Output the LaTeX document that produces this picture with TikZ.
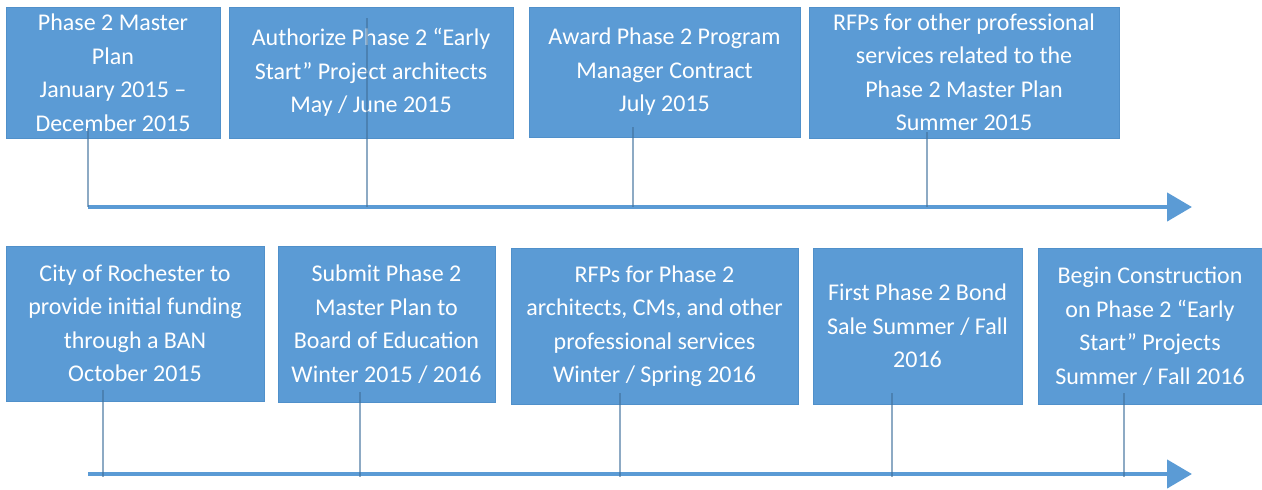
\documentclass[tikz,border=0pt]{standalone}
\usepackage{fontspec}
\setmainfont{Carlito}
\usetikzlibrary{arrows.meta}
\definecolor{boxblue}{HTML}{5B9BD5}
\definecolor{boxedge}{HTML}{5090CA}
\definecolor{tickc}{HTML}{41719C}
\begin{document}
\begin{tikzpicture}[x=1pt,y=-1pt,
  evbox/.style={draw=boxedge,line width=0.6pt,fill=boxblue,text=white,inner sep=0pt,align=center,
    font=\fontsize{24}{33.5}\selectfont},
  axisline/.style={draw=boxblue,line width=4.5pt,-{Triangle[length=25pt,width=28pt]}},
  tickline/.style={draw=tickc,draw opacity=0.6,line width=1.3pt}]
\useasboundingbox (0,0) rectangle (1262,490);
% row 1 boxes
\node[evbox,minimum width=214pt,minimum height=131pt] (b1) at (113,72.5)
  {Phase 2 Master\\Plan\\January 2015 –\\December 2015};
\node[evbox,minimum width=284pt,minimum height=131pt] (b2) at (371,72.5)
  {Authorize Phase 2 “Early\\Start” Project architects\\May / June 2015};
\node[evbox,minimum width=271pt,minimum height=130pt] (b3) at (664.5,72)
  {Award Phase 2 Program\\Manager Contract\\July 2015};
\node[evbox,minimum width=310pt,minimum height=131pt] (b4) at (964,72.5)
  {RFPs for other professional\\services related to the\\Phase 2 Master Plan\\Summer 2015};
% row 2 boxes
\node[evbox,minimum width=258pt,minimum height=155pt] (b5) at (135,323.5)
  {City of Rochester to\\provide initial funding\\through a BAN\\October 2015};
\node[evbox,minimum width=217pt,minimum height=156pt] (b6) at (386.5,324)
  {Submit Phase 2\\Master Plan to\\Board of Education\\Winter 2015 / 2016};
\node[evbox,minimum width=287pt,minimum height=156pt] (b7) at (654.5,326)
  {RFPs for Phase 2\\architects, CMs, and other\\professional services\\Winter / Spring 2016};
\node[evbox,minimum width=209pt,minimum height=156pt] (b8) at (917.5,326)
  {First Phase 2 Bond\\Sale Summer / Fall\\2016};
\node[evbox,minimum width=224pt,minimum height=156pt] (b9) at (1150,326)
  {Begin Construction\\on Phase 2 “Early\\Start” Projects\\Summer / Fall 2016};
% axes
\coordinate (a1s) at (88,207);
\coordinate (a1e) at (1192,207);
\coordinate (a2s) at (88,474);
\coordinate (a2e) at (1192,474);
\draw[axisline] (a1s) -- (a1e);
\draw[axisline] (a2s) -- (a2e);
% tick tops
\coordinate (t1) at (88,128);
\coordinate (t2) at (367,18);
\coordinate (t3) at (633,127);
\coordinate (t4) at (927,132);
\coordinate (t5) at (103,390);
\coordinate (t6) at (360,392);
\coordinate (t7) at (620,393);
\coordinate (t8) at (892,393);
\coordinate (t9) at (1124,393);
\foreach \t in {t1,t2,t3,t4}
  \draw[tickline] (\t) -- (\t |- a1s);
\foreach \t in {t5,t6,t7,t8,t9}
  \draw[tickline] (\t) -- ([yshift=-3pt]\t |- a2s);
\end{tikzpicture}
\end{document}
